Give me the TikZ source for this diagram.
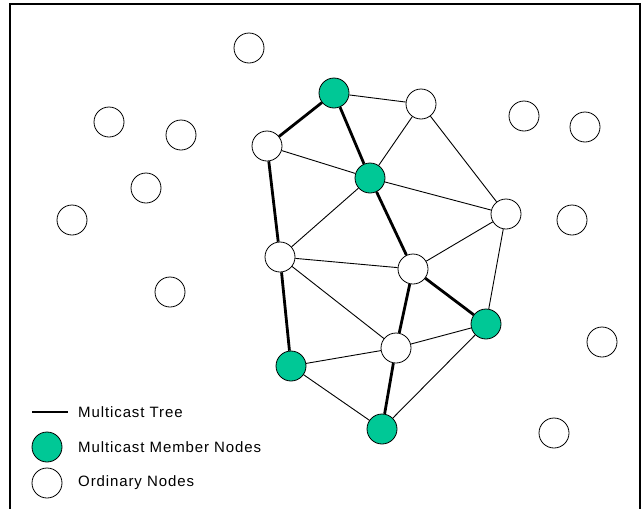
\documentclass[tikz,border=0pt]{standalone}
\usepackage{fontspec}
\setmainfont{Liberation Sans}[LetterSpace=6]
\definecolor{member}{RGB}{0,200,150}
\begin{document}
\begin{tikzpicture}[x=1pt,y=-1pt,
  ord/.style={circle,draw=black,fill=white,line width=0.8pt,minimum size=30pt,inner sep=0pt},
  mem/.style={ord,fill=member},
  thinedge/.style={line width=0.9pt},
  treeedge/.style={line width=2.8pt},
  lbl/.style={anchor=west,inner sep=0pt,font=\fontsize{15}{17}\selectfont}]
\useasboundingbox (0,0) rectangle (643,509);
\draw[line width=1.6pt] (10,509) -- (10,4) -- (640,4) -- (640,509);
% isolated ordinary nodes
\node[ord] (o1) at (249,48) {};
\node[ord] (o2) at (109,122) {};
\node[ord] (o3) at (181,135) {};
\node[ord] (o4) at (146,188) {};
\node[ord] (o5) at (72,220) {};
\node[ord] (o6) at (170,292) {};
\node[ord] (o7) at (524,116) {};
\node[ord] (o8) at (585,127) {};
\node[ord] (o9) at (572,220) {};
\node[ord] (o10) at (602,342) {};
\node[ord] (o11) at (554,433) {};
% graph nodes
\node[mem] (A) at (334,93) {};
\node[ord] (B) at (421,104) {};
\node[ord] (C) at (267,146) {};
\node[mem] (D) at (370,178) {};
\node[ord] (E) at (506,214) {};
\node[ord] (F) at (280,257) {};
\node[ord] (G) at (413,269) {};
\node[mem] (H) at (486,324) {};
\node[ord] (I) at (396,348) {};
\node[mem] (J) at (291,366) {};
\node[mem] (K) at (382,429) {};
\foreach \a/\b in {A/B,B/D,B/E,C/D,D/E,D/F,F/G,G/E,E/H,F/I,I/H,J/I,J/K,K/H}
  \draw[thinedge] (\a) -- (\b);
\foreach \a/\b in {C/A,A/D,D/G,G/H,C/F,F/J,G/I,I/K}
  \draw[treeedge] (\a) -- (\b);
% legend
\coordinate (l1) at (32,412);
\coordinate (l2) at (68,412);
\draw[treeedge] (l1) -- (l2);
\node[lbl] (t1) at (78,412) {Multicast Tree};
\node[mem] (lm) at (47,447) {};
\node[lbl] (t2) at (78,447) {Multicast Member Nodes};
\node[ord] (lo) at (47,483) {};
\node[lbl] (t3) at (78,483) {Ordinary Nodes};
\end{tikzpicture}
\end{document}
